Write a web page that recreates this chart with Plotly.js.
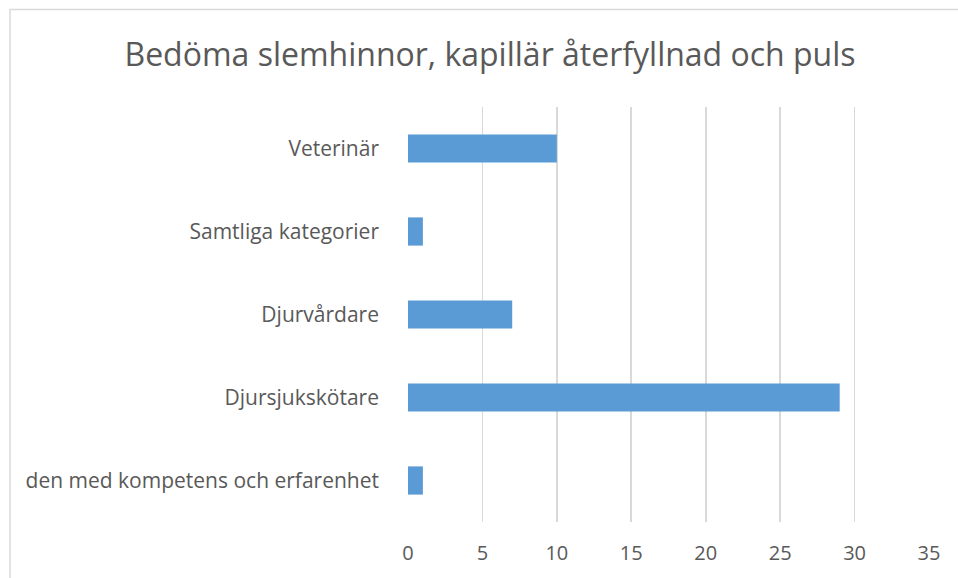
<!DOCTYPE html>
<html>
<head>
<meta charset="utf-8">
<script src="https://cdn.plot.ly/plotly-3.0.1.min.js"></script>
<style>
html,body{margin:0;padding:0;background:#fff;}
#chart{width:958px;height:578px;}
</style>
</head>
<body>
<div id="chart"></div>
<script>
const categories = ["den med kompetens och erfarenhet", "Djursjukskötare", "Djurvårdare", "Samtliga kategorier", "Veterinär"];
const values = [1, 29, 7, 1, 10];
const xTicks = [0, 5, 10, 15, 20, 25, 30, 35];

const font = "Open Sans, Noto Sans, sans-serif";
const textColor = "#595959";

const trace = {
  type: "bar",
  orientation: "h",
  y: categories,
  x: values,
  marker: {color: "#5B9BD5"},
  hoverinfo: "x+y"
};

const L = 408, R = 929, T = 107, B = 522;
const pw = R - L, ph = B - T;

const layout = {
  width: 958, height: 578,
  margin: {l: L, r: 958 - R, t: T, b: 578 - B},
  paper_bgcolor: "#ffffff",
  plot_bgcolor: "#ffffff",
  showlegend: false,
  bargap: 0.66,
  title: {
    text: "Bedöma slemhinnor, kapillär återfyllnad och puls",
    font: {family: font, size: 32, color: textColor},
    x: 490 / 958, xanchor: "center", xref: "container",
    y: 1 - 55 / 578, yanchor: "middle", yref: "container"
  },
  xaxis: {
    range: [0, 35],
    tickvals: xTicks,
    ticktext: xTicks.map(String),
    showgrid: true,
    gridcolor: "#d9d9d9",
    gridwidth: 1.8,
    zeroline: false,
    showline: false,
    ticks: "",
    ticklabelstandoff: 17,
    tickfont: {family: font, size: 20, color: textColor},
    fixedrange: true
  },
  yaxis: {
    categoryorder: "array",
    categoryarray: categories,
    showgrid: false,
    zeroline: false,
    showline: false,
    ticks: "",
    ticklabelstandoff: 28,
    tickfont: {family: font, size: 21, color: textColor},
    fixedrange: true
  },
  shapes: [{
    type: "rect", xref: "paper", yref: "paper",
    x0: (10 - L) / pw, x1: (975 - L) / pw,
    y0: -(600 - B) / ph, y1: 1 + (T - 9.5) / ph,
    line: {color: "#d9d9d9", width: 1.5},
    fillcolor: "rgba(0,0,0,0)"
  }]
};

Plotly.newPlot("chart", [trace], layout, {displayModeBar: false, staticPlot: true});
</script>
</body>
</html>
